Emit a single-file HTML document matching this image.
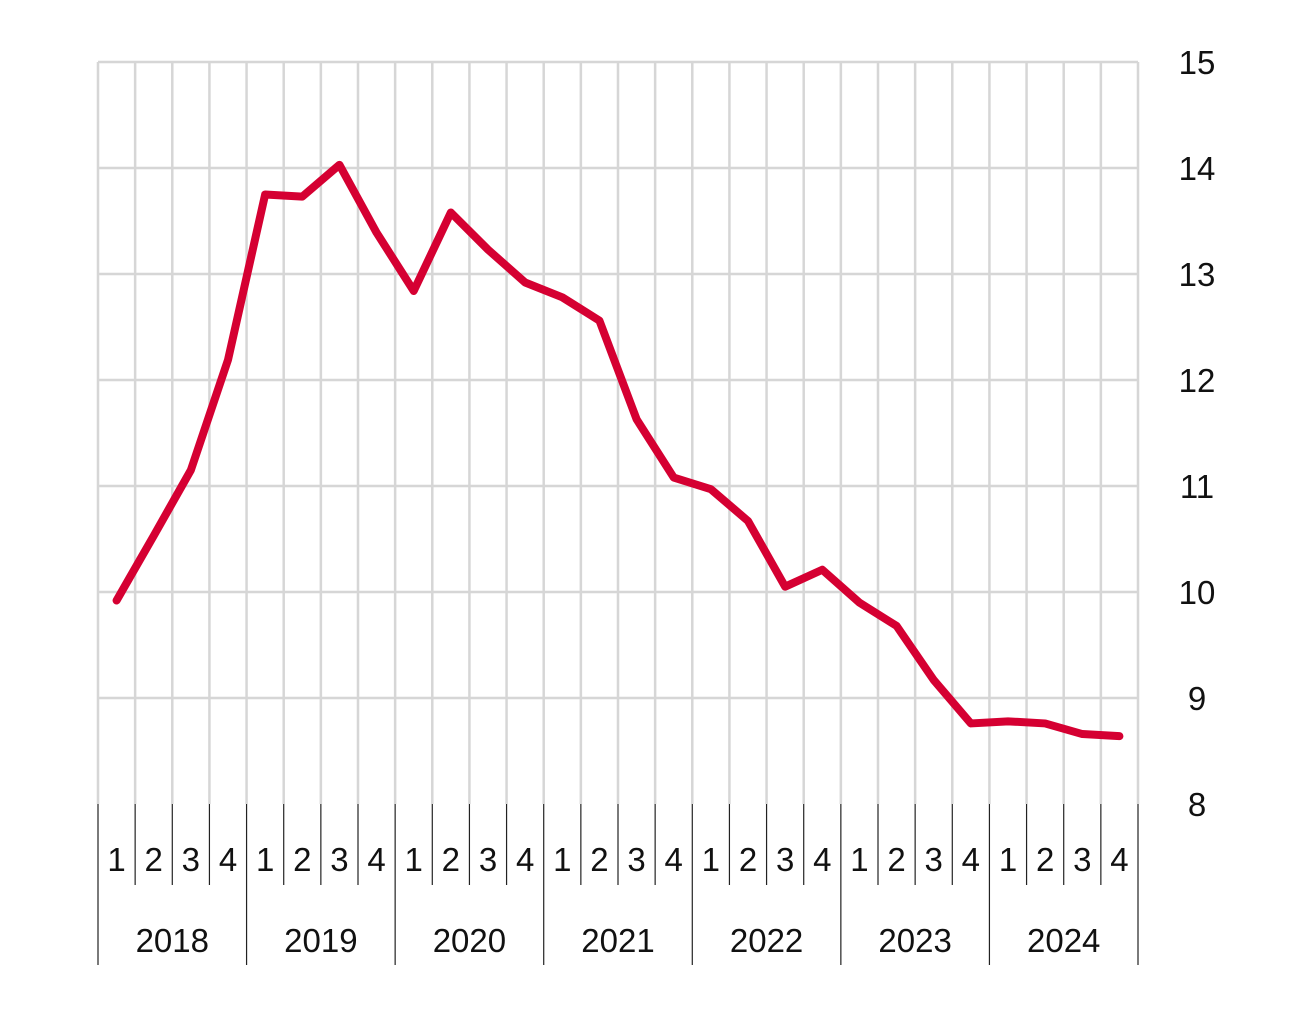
<!DOCTYPE html>
<html><head><meta charset="utf-8"><style>
body{margin:0;background:#fff}
svg{display:block}
text{font-family:"Liberation Sans",sans-serif;fill:#111}
</style></head><body>
<svg id="chart" width="1290" height="1016" xmlns="http://www.w3.org/2000/svg">
<g id="grid"></g>
<g id="yaxis"></g>
<g id="xaxis"></g>
<g id="series"></g>
</svg>
<script>
const years = ["2018","2019","2020","2021","2022","2023","2024"];
const quarters = ["1","2","3","4"];
const values = [9.92,10.53,11.15,12.19,13.75,13.73,14.03,13.39,12.84,13.58,13.23,12.92,12.78,12.56,11.63,11.08,10.97,10.67,10.05,10.21,9.90,9.68,9.17,8.76,8.78,8.76,8.66,8.64];
const yTicks = [8,9,10,11,12,13,14,15];

const NS="http://www.w3.org/2000/svg";
const L=98,R=1138,T=62,B=804,yMin=8,yMax=15;
const n=years.length*quarters.length;
const bw=(R-L)/n;
const xb=i=>L+i*bw;
const xc=i=>L+(i+0.5)*bw;
const y=v=>B-(v-yMin)/(yMax-yMin)*(B-T);
function mk(tag,attrs,parent){const e=document.createElementNS(NS,tag);for(const k in attrs)e.setAttribute(k,attrs[k]);parent.appendChild(e);return e;}
const grid=document.getElementById('grid'),ya=document.getElementById('yaxis'),xa=document.getElementById('xaxis'),se=document.getElementById('series');

yTicks.forEach(t=>{
  if(t>yMin){const l=mk('line',{x1:L,x2:R,y1:y(t),y2:y(t),stroke:'#d6d6d6','stroke-width':2.5},grid);
  
  }
  const tx=mk('text',{x:1197,y:y(t)+12,'text-anchor':'middle','font-size':33},ya);
  tx.textContent=t;
  
  
});
for(let i=0;i<=n;i++){
  const l=mk('line',{x1:xb(i),x2:xb(i),y1:T,y2:B,stroke:'#d6d6d6','stroke-width':2.5},grid);
  
  
  const yr=i%4===0;
  const t=mk('line',{x1:xb(i),x2:xb(i),y1:B,y2:yr?965:885,stroke:'#222','stroke-width':1.2},xa);
  
  
}
years.forEach((yr,yi)=>{
  quarters.forEach((q,qi)=>{
    const i=yi*4+qi;
    const t=mk('text',{x:xc(i),y:871,'text-anchor':'middle','font-size':33},xa);
    t.textContent=q;
    
    
  });
  const t=mk('text',{x:xb(yi*4+2),y:952,'text-anchor':'middle','font-size':33},xa);
  t.textContent=yr;
  
  
});
const p=mk('polyline',{points:values.map((v,i)=>xc(i)+','+y(v)).join(' '),fill:'none',stroke:'#d50032','stroke-width':8,'stroke-linejoin':'round','stroke-linecap':'round'},se);


</script>
</body></html>
